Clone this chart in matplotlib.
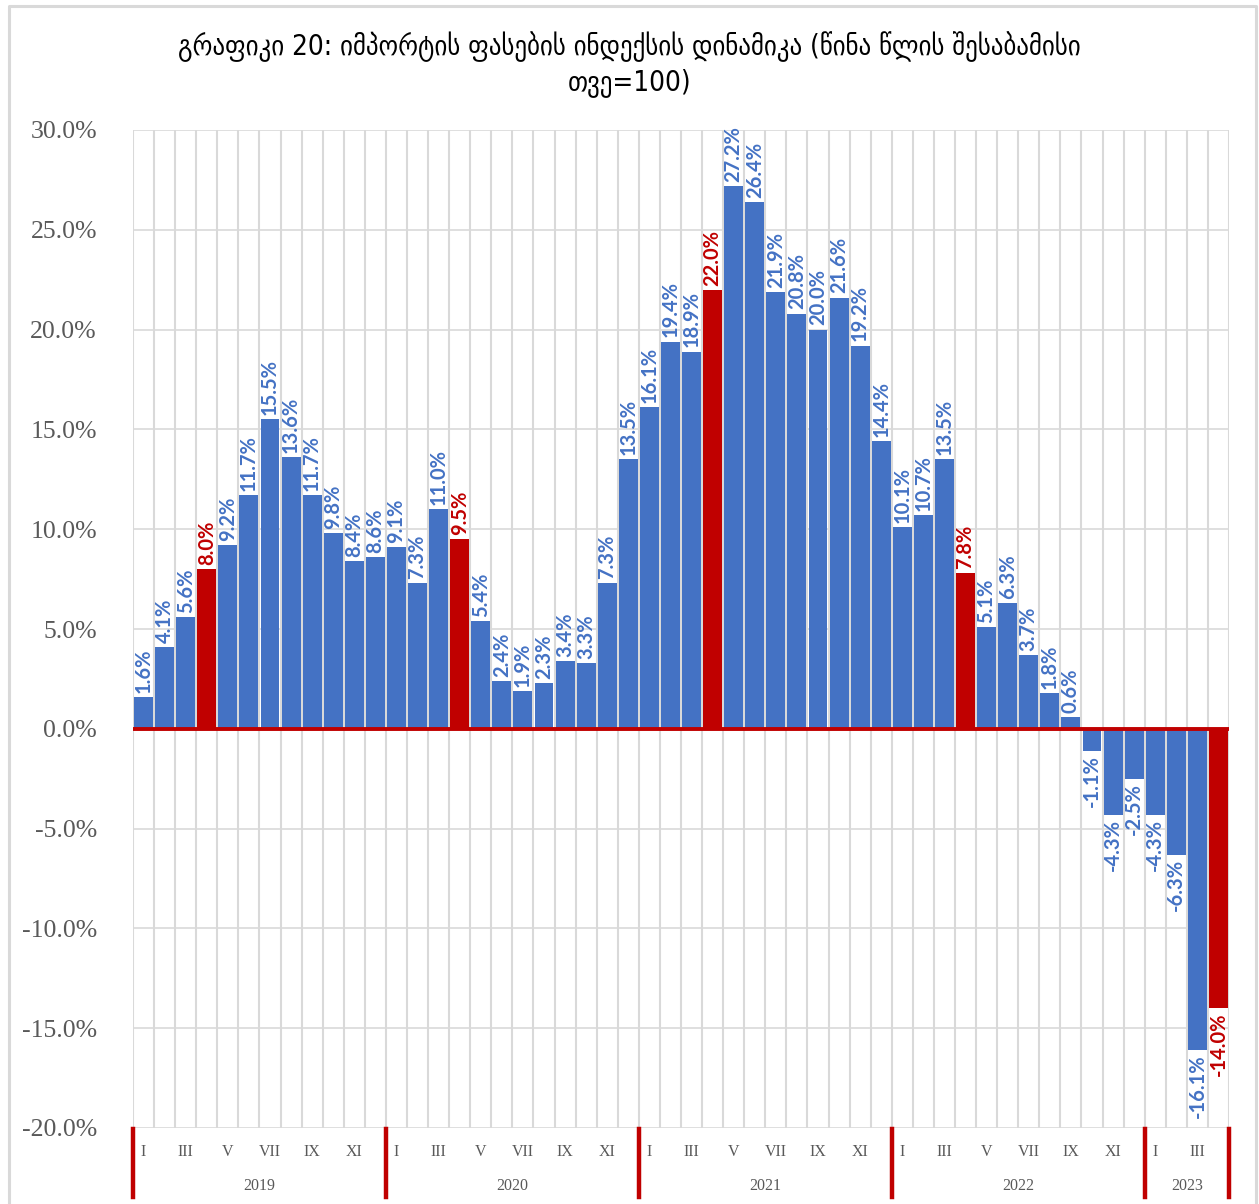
import matplotlib
matplotlib.use("Agg")
import matplotlib.pyplot as plt
import matplotlib.transforms as mtransforms
from matplotlib.lines import Line2D

years = ["2019", "2020", "2021", "2022", "2023"]
months_per_year = [12, 12, 12, 12, 4]
month_labels = ["I", "", "III", "", "V", "", "VII", "", "IX", "", "XI", ""]
values = [
    1.6, 4.1, 5.6, 8.0, 9.2, 11.7, 15.5, 13.6, 11.7, 9.8, 8.4, 8.6,
    9.1, 7.3, 11.0, 9.5, 5.4, 2.4, 1.9, 2.3, 3.4, 3.3, 7.3, 13.5,
    16.1, 19.4, 18.9, 22.0, 27.2, 26.4, 21.9, 20.8, 20.0, 21.6, 19.2, 14.4,
    10.1, 10.7, 13.5, 7.8, 5.1, 6.3, 3.7, 1.8, 0.6, -1.1, -4.3, -2.5,
    -4.3, -6.3, -16.1, -14.0,
]
highlight_month = 4  # April bars highlighted
title = "გრაფიკი 20: იმპორტის ფასების ინდექსის დინამიკა (წინა წლის შესაბამისი\nთვე=100)"
yticks = [30, 25, 20, 15, 10, 5, 0, -5, -10, -15, -20]

BLUE = "#4472C4"
RED = "#C00000"
GRID = "#D9D9D9"
TXT = "#595959"

W, H = 1259, 1204
fig = plt.figure(figsize=(W / 100, H / 100), dpi=100)
ax = fig.add_axes([133 / W, 1 - 1128 / H, (1229 - 133) / W, (1128 - 130) / H])

n = len(values)
xs = list(range(n))
month_idx = []
for y, m in zip(years, months_per_year):
    month_idx += list(range(1, m + 1))
colors = [RED if mi == highlight_month else BLUE for mi in month_idx]

ax.bar(xs, values, width=0.9, color=colors, zorder=3, linewidth=0)

ax.set_xlim(-0.5, n - 0.5)
ax.set_ylim(-20, 30)

# grid
for i in range(n + 1):
    ax.axvline(i - 0.5, color=GRID, lw=1.5, zorder=1)
for t in yticks:
    ax.axhline(t, color=GRID, lw=1.2, zorder=1)
ax.axhline(0, color=RED, lw=2.8, zorder=4)

for s in ax.spines.values():
    s.set_visible(False)

ax.set_yticks(yticks)
ax.set_yticklabels([f"{t:.1f}%" for t in yticks], family="Liberation Serif", fontsize=18.5, color=TXT)
ax.tick_params(axis="y", length=0, pad=26)
ax.set_xticks([])

# value labels
for x, v, c, mi in zip(xs, values, colors, month_idx):
    col = RED if mi == highlight_month else BLUE
    off = mtransforms.offset_copy(ax.transData, fig=fig, x=0, y=(3 if v >= 0 else -3), units="points")
    ax.text(x, v, f"{v:.1f}%", rotation=90, ha="center", va="bottom" if v >= 0 else "top",
            color=col, fontsize=14.5, fontweight="bold", family=["Lato", "DejaVu Sans"],
            transform=off, zorder=5, clip_on=False)

# category axis
blend = mtransforms.blended_transform_factory(ax.transData, fig.transFigure)
start = 0
bounds = [-0.5]
for y, m in zip(years, months_per_year):
    for k in range(m):
        lab = month_labels[k]
        if lab:
            ax.text(start + k, 1 - 1152 / H, lab, transform=blend, ha="center", va="center",
                    family="Liberation Serif", fontsize=11.5, color=TXT)
    ax.text(start + (m - 1) / 2, 1 - 1186 / H, y, transform=blend, ha="center", va="center",
            family="Liberation Serif", fontsize=11.5, color=TXT)
    start += m
    bounds.append(start - 0.5)
for b in bounds:
    ax.add_line(Line2D([b, b], [1 - 1129 / H, 1 - 1197 / H], transform=blend, color=RED, lw=3.2, clip_on=False))

# title
fig.text(0.5, 1 - 64 / H, title, ha="center", va="center", fontsize=20, color="black",
         family="DejaVu Sans", fontstretch="condensed", linespacing=1.3)

# outer frame (left, top, right edges)
fx = [8.5 / W, 8.5 / W, 1255.5 / W, 1255.5 / W]
fy = [0, 1 - 5.5 / H, 1 - 5.5 / H, 0]
fig.add_artist(Line2D(fx, fy, transform=fig.transFigure, color=GRID, lw=2.2))

fig.savefig("out.png", dpi=100)
